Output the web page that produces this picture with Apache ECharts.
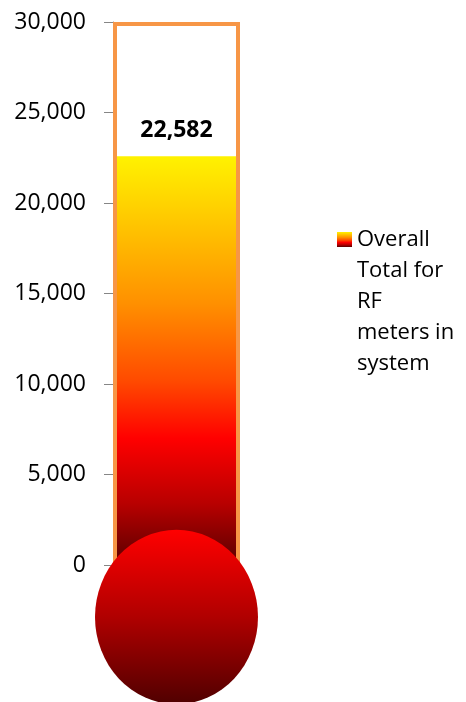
<!DOCTYPE html>
<html>
<head>
<meta charset="utf-8">
<script src="https://cdn.jsdelivr.net/npm/echarts@6/dist/echarts.min.js"></script>
<style>
html,body{margin:0;padding:0;background:#fff;}
#chart{width:466px;height:702px;}
</style>
</head>
<body>
<div id="chart"></div>
<script>
var categories = ['RF meters'];
var seriesName = 'Overall Total for RF meters in system';
var values = [22582];
var capacity = [30000];
var yMin = 0, yMax = 30000, yInterval = 5000;

var chart = echarts.init(document.getElementById('chart'));

var fillGradient = new echarts.graphic.LinearGradient(0, 0, 0, 1, [
  {offset: 0, color: '#FFF200'},
  {offset: 0.12, color: '#FFD200'},
  {offset: 0.36, color: '#FF9000'},
  {offset: 0.55, color: '#FF4A00'},
  {offset: 0.69, color: '#FF0000'},
  {offset: 0.85, color: '#B80000'},
  {offset: 1, color: '#580000'}
]);
var bulbGradient = new echarts.graphic.LinearGradient(0, 0, 0, 1, [
  {offset: 0, color: '#FF0000'},
  {offset: 0.5, color: '#B00000'},
  {offset: 1, color: '#500000'}
]);

var option = {
  animation: false,
  grid: {left: 113, top: 22, width: 127, bottom: 137},
  legend: {
    data: [seriesName],
    left: 337,
    top: 100,
    padding: 0,
    orient: 'vertical',
    itemWidth: 15,
    itemHeight: 15,
    itemGap: 0,
    icon: 'rect',
    formatter: function () { return ' \n \n \n \nOverall\nTotal for\nRF\nmeters in\nsystem'; },
    textStyle: {fontFamily: 'Open Sans', fontSize: 22, color: '#000', lineHeight: 31}
  },
  xAxis: {
    type: 'category',
    data: categories,
    axisLine: {show: false},
    axisTick: {show: false},
    axisLabel: {show: false}
  },
  yAxis: {
    type: 'value',
    min: yMin, max: yMax, interval: yInterval,
    axisLine: {show: true, lineStyle: {color: '#868686', width: 1}},
    axisTick: {show: true, length: 9, lineStyle: {color: '#868686', width: 1}},
    splitLine: {show: false},
    axisLabel: {
      margin: 27, color: '#000', fontFamily: 'Open Sans', fontSize: 23,
      formatter: function (v) { return v.toLocaleString('en-US'); }
    }
  },
  series: [
    {
      name: 'capacity', type: 'bar', data: capacity, barWidth: '100%', barGap: '-100%',
      itemStyle: {color: 'rgba(0,0,0,0)', borderColor: '#F79646', borderWidth: 4},
      z: 3, silent: true
    },
    {
      name: seriesName, type: 'bar', data: values, barWidth: '100%', barGap: '-100%',
      itemStyle: {color: fillGradient},
      label: {
        show: true, position: 'top', distance: 14, color: '#000',
        fontFamily: 'Open Sans', fontSize: 23, fontWeight: 'bold',
        formatter: function (p) { return p.value.toLocaleString('en-US'); }
      },
      z: 2
    },
    {
      name: 'bulb', type: 'custom', clip: false, z: 5, silent: true,
      data: [[0, 0]],
      renderItem: function (params, api) {
        var p = api.coord([api.value(0), api.value(1)]);
        return {
          type: 'circle',
          x: p[0], y: p[1] + 52,
          scaleY: 1.07,
          shape: {cx: 0, cy: 0, r: 81.5},
          style: {fill: bulbGradient}
        };
      }
    }
  ]
};
chart.setOption(option);
</script>
</body>
</html>
